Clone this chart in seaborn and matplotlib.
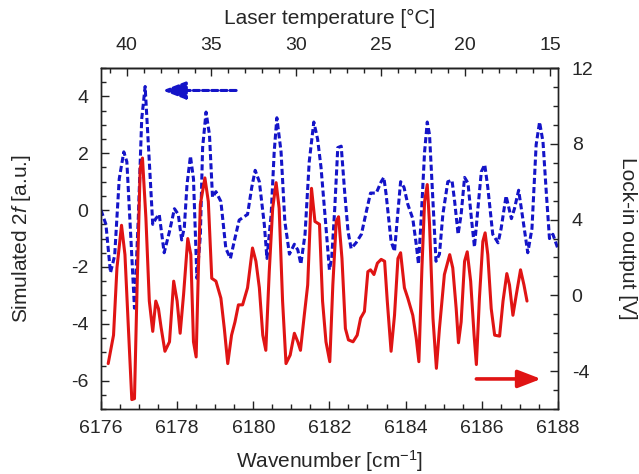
import matplotlib
matplotlib.use("Agg")
import matplotlib.pyplot as plt
from matplotlib.ticker import MultipleLocator
import seaborn as sns
import pandas as pd

# ---------------- data ----------------
sim_wn = [6176.00, 6176.13, 6176.25, 6176.36, 6176.48, 6176.60, 6176.68, 6176.79, 6176.88, 6176.98,
          6177.07, 6177.16, 6177.27, 6177.36, 6177.44, 6177.53, 6177.66, 6177.80, 6177.93, 6178.03,
          6178.12, 6178.19, 6178.26, 6178.35, 6178.43, 6178.52, 6178.61, 6178.67, 6178.76, 6178.85,
          6178.93, 6179.02, 6179.15, 6179.28, 6179.40, 6179.50, 6179.63, 6179.85, 6179.96, 6180.05,
          6180.16, 6180.29, 6180.36, 6180.47, 6180.55, 6180.62, 6180.73, 6180.83, 6180.95, 6181.08,
          6181.17, 6181.25, 6181.36, 6181.47, 6181.59, 6181.69, 6181.78, 6181.91, 6182.00, 6182.06,
          6182.14, 6182.22, 6182.31, 6182.40, 6182.49, 6182.57, 6182.70, 6182.84, 6182.97, 6183.08,
          6183.23, 6183.36, 6183.43, 6183.49, 6183.62, 6183.71, 6183.80, 6183.87, 6183.96, 6184.06,
          6184.19, 6184.28, 6184.34, 6184.41, 6184.50, 6184.57, 6184.63, 6184.72, 6184.80, 6184.89,
          6184.98, 6185.11, 6185.22, 6185.29, 6185.38, 6185.46, 6185.55, 6185.64, 6185.73, 6185.81,
          6185.90, 6185.99, 6186.08, 6186.16, 6186.29, 6186.43, 6186.51, 6186.64, 6186.78, 6186.86,
          6186.97, 6187.08, 6187.21, 6187.32, 6187.43, 6187.52, 6187.61, 6187.70, 6187.78, 6187.87,
          6188.00]
sim_val = [0.0, -0.5, -2.2, -1.6, 1.1, 2.05, 1.7, -1.1, -3.45, -0.3,
           3.2, 4.35, 1.7, -0.5, -0.3, -0.15, -1.5, -0.75, 0.05, -0.15,
           -1.05, -0.6, 0.9, 1.9, 1.1, -2.4, -0.9, 2.2, 3.45, 2.65,
           0.45, 0.65, 0.3, -1.35, -1.7, -1.1, -0.35, -0.15, 0.8, 1.4,
           1.0, -0.5, -1.7, -0.15, 2.05, 3.25, 2.05, -0.4, -1.55, -1.2,
           -1.4, -1.9, -0.85, 1.7, 3.1, 2.5, 1.5, -0.6, -2.1, -1.7,
           0.05, 2.2, 2.25, 0.65, -0.75, -1.35, -1.15, -0.85, -0.05, 0.6,
           0.6, 1.0, 1.15, 0.55, -1.1, -1.45, -0.05, 1.0, 0.8, 0.2,
           -0.3, -1.2, -1.9, -0.3, 2.05, 3.1, 2.65, 0.3, -1.8, -1.55,
           -0.15, 1.0, 1.05, 0.3, -0.85, -0.15, 1.15, 0.95, -0.3, -1.3,
           0.05, 1.35, 1.6, 0.8, -0.85, -1.15, -0.65, 0.5, -0.3, 0.05,
           0.7, -0.3, -1.5, -0.65, 2.3, 3.1, 2.4, 0.55, -1.0, -0.85,
           -1.35]

exp_wn = [6176.19, 6176.33, 6176.42, 6176.54, 6176.63, 6176.72, 6176.81, 6176.88, 6176.95, 6177.03,
          6177.09, 6177.18, 6177.27, 6177.36, 6177.44, 6177.51, 6177.58, 6177.68, 6177.80, 6177.91,
          6178.00, 6178.08, 6178.17, 6178.28, 6178.36, 6178.43, 6178.50, 6178.56, 6178.61, 6178.73,
          6178.82, 6178.91, 6179.02, 6179.15, 6179.24, 6179.33, 6179.43, 6179.52, 6179.61, 6179.72,
          6179.85, 6179.98, 6180.07, 6180.16, 6180.25, 6180.33, 6180.42, 6180.51, 6180.60, 6180.68,
          6180.77, 6180.86, 6180.97, 6181.08, 6181.17, 6181.24, 6181.34, 6181.43, 6181.53, 6181.62,
          6181.74, 6181.82, 6181.91, 6182.01, 6182.09, 6182.18, 6182.24, 6182.33, 6182.42, 6182.50,
          6182.62, 6182.73, 6182.82, 6182.92, 6183.01, 6183.08, 6183.17, 6183.26, 6183.36, 6183.45,
          6183.52, 6183.62, 6183.71, 6183.80, 6183.87, 6183.97, 6184.06, 6184.19, 6184.28, 6184.35,
          6184.43, 6184.50, 6184.57, 6184.63, 6184.72, 6184.81, 6184.89, 6185.02, 6185.16, 6185.24,
          6185.33, 6185.39, 6185.46, 6185.55, 6185.62, 6185.71, 6185.80, 6185.86, 6185.94, 6186.03,
          6186.09, 6186.16, 6186.25, 6186.34, 6186.47, 6186.56, 6186.66, 6186.73, 6186.82, 6186.91,
          6187.02, 6187.11, 6187.19]
exp_val = [-3.6, -2.1, 1.45, 3.7, 2.15, -1.7, -5.5, -5.45, 0.55, 6.7,
           7.25, 4.1, -0.3, -1.9, -0.3, -0.7, -1.7, -2.95, -2.45, 0.75,
           -0.3, -2.0, 0.05, 3.0, 2.15, -2.45, -3.25, 1.45, 4.8, 6.2,
           4.95, 0.9, 0.75, -0.15, -1.75, -3.6, -2.1, -1.4, -0.5, -0.5,
           0.4, 2.5, 1.8, 0.4, -2.1, -2.9, 1.25, 4.6, 5.95, 4.6,
           -0.3, -3.6, -3.15, -2.0, -2.45, -2.9, -1.05, 0.55, 5.65, 3.9,
           3.75, -0.3, -2.45, -3.5, 0.55, 3.9, 4.15, 1.95, -1.75, -2.35,
           -2.45, -2.1, -1.2, -0.85, 1.25, 1.35, 1.1, 1.7, 1.9, 1.8,
           -0.3, -2.95, -1.05, 1.95, 2.25, 0.4, -0.15, -1.05, -2.25, -3.5,
           1.45, 4.95, 5.85, 3.75, -1.2, -3.85, -1.75, 1.1, 2.15, 1.45,
           -0.7, -2.5, -1.4, 1.8, 2.3, 0.75, -2.1, -3.65, -0.15, 2.85,
           3.3, 2.15, -0.7, -2.1, -2.15, -0.3, 1.15, 0.55, -1.05, 0.05,
           1.35, 0.55, -0.3]

top_ticks = [40, 35, 30, 25, 20, 15]
# linear wavenumber -> temperature calibration
T_ref, wn_ref, dT_dwn = 40.0, 6176.68, -2.25

BLUE = "#1414c8"
RED = "#e01414"

sns.set_theme(style="ticks")
plt.rcParams["font.family"] = ["Liberation Sans", "DejaVu Sans"]
plt.rcParams["mathtext.fontset"] = "custom"
plt.rcParams["mathtext.rm"] = "Liberation Sans"
plt.rcParams["mathtext.it"] = "Liberation Sans:italic"
plt.rcParams["axes.unicode_minus"] = False

sim_df = pd.DataFrame({"wn": sim_wn, "val": sim_val})
exp_df = pd.DataFrame({"wn": exp_wn, "val": exp_val})

fig, ax = plt.subplots(figsize=(6.39, 4.74), dpi=100)
fig.subplots_adjust(left=0.158, right=0.873, bottom=0.137, top=0.8565)

sns.lineplot(data=sim_df, x="wn", y="val", ax=ax, color=BLUE, lw=2.2,
             linestyle=(0, (2, 1)), estimator=None, sort=False)
ax2 = ax.twinx()
sns.lineplot(data=exp_df, x="wn", y="val", ax=ax2, color=RED, lw=2.2,
             estimator=None, sort=False)

ax.set_xlim(6176, 6188)
ax.set_ylim(-7, 5)
ax2.set_ylim(-6, 12)

ax.xaxis.set_major_locator(MultipleLocator(2))
ax.xaxis.set_minor_locator(MultipleLocator(0.5))
ax.yaxis.set_major_locator(MultipleLocator(2))
ax.yaxis.set_minor_locator(MultipleLocator(0.5))
ax2.yaxis.set_major_locator(MultipleLocator(4))
ax2.yaxis.set_minor_locator(MultipleLocator(1))

def wn2T(w):
    return T_ref + dT_dwn * (w - wn_ref)

def T2wn(t):
    return wn_ref + (t - T_ref) / dT_dwn

secx = ax.secondary_xaxis("top", functions=(wn2T, T2wn))
secx.set_xticks(top_ticks)
secx.xaxis.set_minor_locator(MultipleLocator(1))

for a in (ax, ax2):
    for s in a.spines.values():
        s.set_visible(True)
        s.set_color("#222222")
        s.set_linewidth(1.0)
for s in secx.spines.values():
    s.set_color("#222222")
    s.set_linewidth(1.0)

ax.tick_params(axis="x", which="both", direction="in", top=False, bottom=True,
               labelsize=14, pad=8, color="#222222")
ax.tick_params(axis="y", which="both", direction="in", left=True, right=False,
               labelsize=14, pad=9, color="#222222")
ax2.tick_params(axis="y", which="both", direction="in", right=True, left=False,
                labelsize=14, pad=10, color="#222222")
secx.tick_params(axis="x", which="both", direction="in", labelsize=14, pad=10, color="#222222")
for a in (ax, ax2, secx):
    a.tick_params(which="major", length=6, width=1)
    a.tick_params(which="minor", length=3.5, width=1)

ax.set_xlabel("Wavenumber [cm$^{-1}$]", fontsize=15, va="center")
ax.xaxis.set_label_coords(0.5, (409 - 461) / 341)
ax.set_ylabel("Simulated 2$f$ [a.u.]", fontsize=15, va="center")
ax.yaxis.set_label_coords((22 - 101) / 457, 0.5)
ax2.set_ylabel("Lock-in output [V]", fontsize=15, rotation=270, va="center")
ax2.yaxis.set_label_coords((628 - 101) / 457, 0.5)
secx.set_xlabel("Laser temperature [°C]", fontsize=15, va="center")
secx.xaxis.set_label_coords(0.5, (409 - 18) / 341, transform=ax.transAxes)

# direction arrows
ax.annotate("", xy=(6177.62, 4.21), xytext=(6179.55, 4.21),
            arrowprops=dict(arrowstyle="-|>,head_length=0.7,head_width=0.27",
                            color=BLUE, lw=2.2, linestyle=(0, (2, 1)),
                            mutation_scale=20, shrinkA=0, shrinkB=0))
ax2.annotate("", xy=(6187.56, -4.41), xytext=(6185.86, -4.41),
             arrowprops=dict(arrowstyle="-|>,head_length=0.7,head_width=0.27",
                             color=RED, lw=2.6, mutation_scale=20,
                             shrinkA=0, shrinkB=0))

fig.savefig("out.png", dpi=100)
